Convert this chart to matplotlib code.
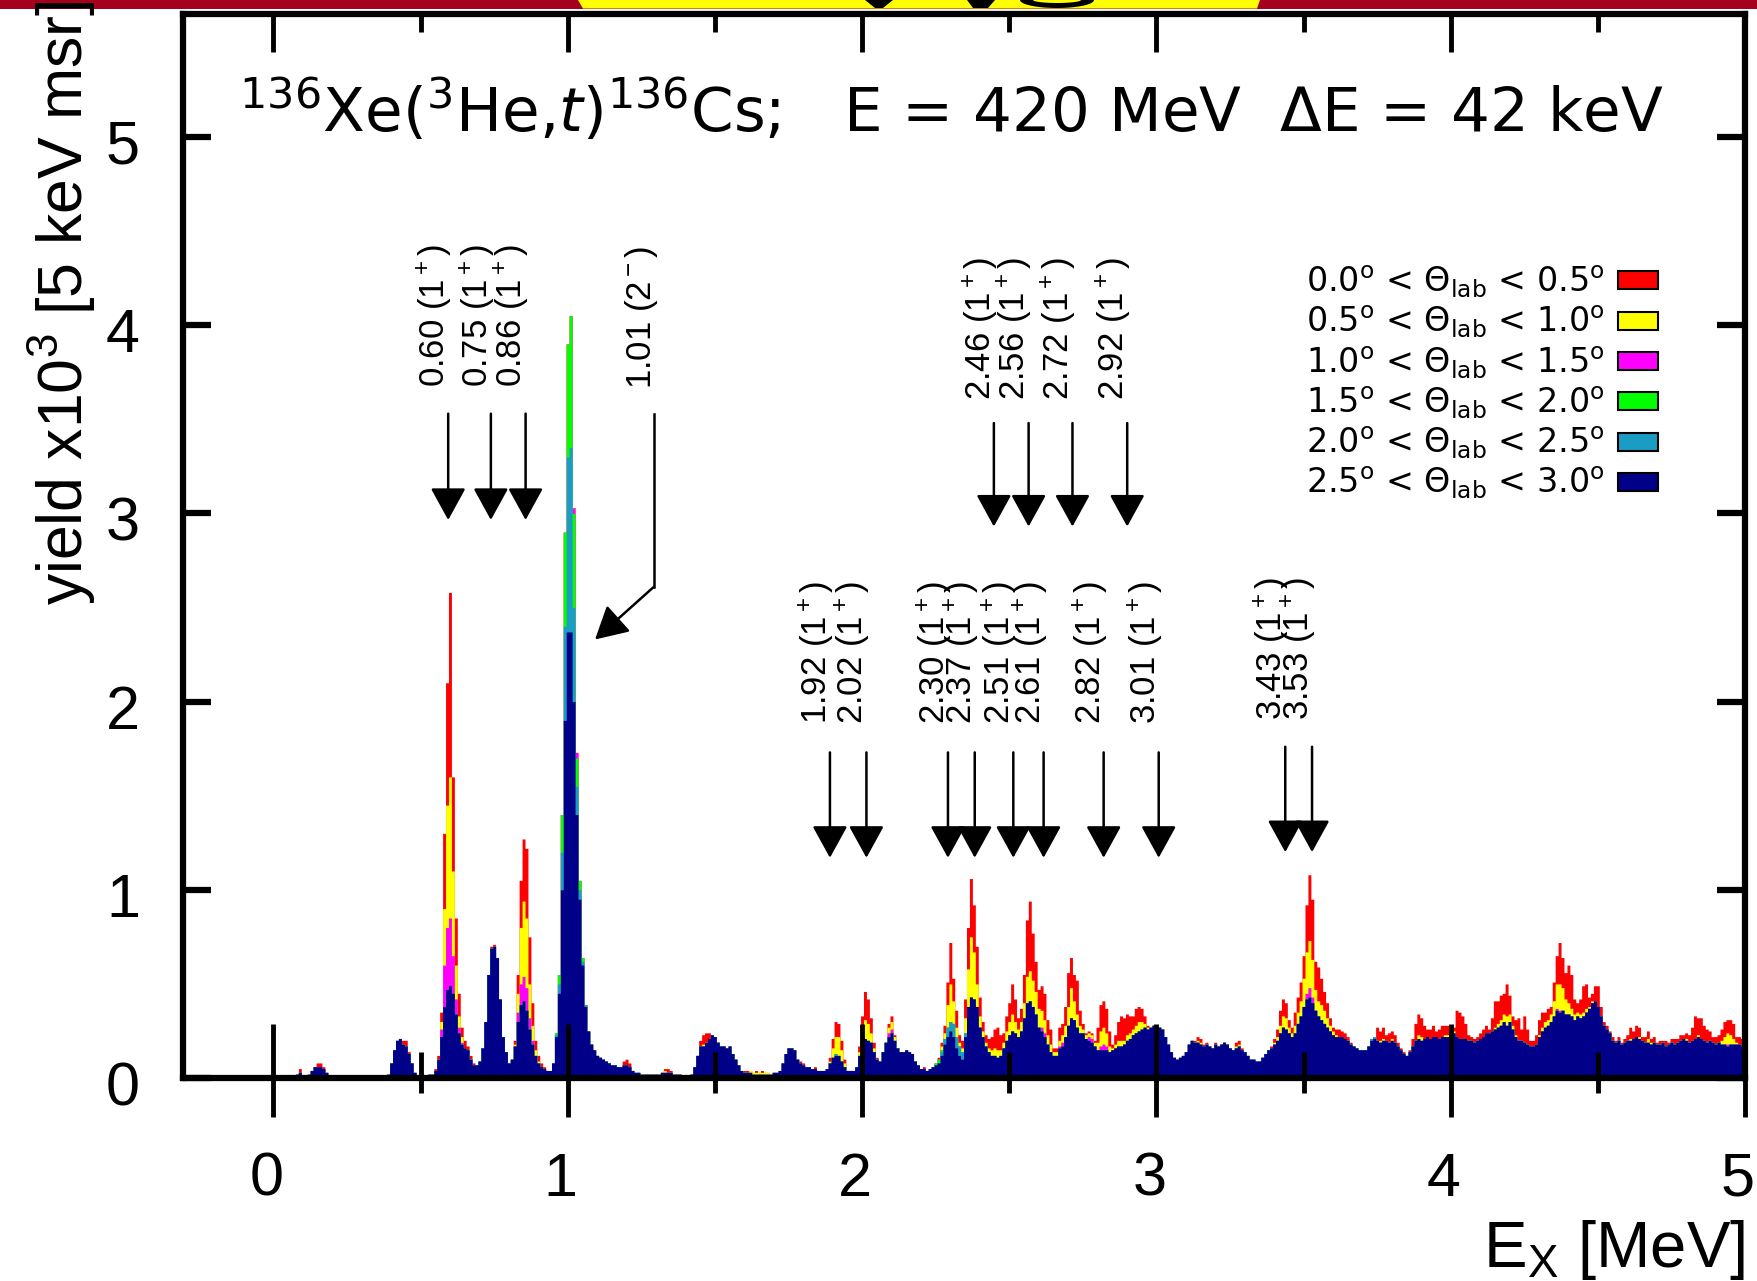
import numpy as np
import matplotlib
matplotlib.use('Agg')
import matplotlib.pyplot as plt
from matplotlib.patches import Patch, Polygon, Rectangle
from matplotlib.ticker import MultipleLocator
from matplotlib.transforms import ScaledTranslation

plt.rcParams['font.family'] = ['Liberation Sans', 'DejaVu Sans']
plt.rcParams['mathtext.fontset'] = 'custom'
plt.rcParams['mathtext.rm'] = 'Liberation Sans'
plt.rcParams['mathtext.it'] = 'Liberation Sans:italic'
plt.rcParams['mathtext.bf'] = 'Liberation Sans:bold'

# spectrum: 10 keV bins, centres 0.00 ... 5.00 MeV
E_START, E_STEP = 0.0, 0.01

# yield per bin for each angular cut, in units of 10 (axis shows x10^3)
# 2.5 < theta < 3.0
y25 = [
    0,0,0,0,0, 0,1,1,2,3, 1,1,2,4,6, 6,6,5,3,1, 0,0,0,0,0,
    0,0,0,0,0, 0,0,0,0,0, 0,0,0,0,2, 8,15,20,21,18, 17,13,8,3,1,
    1,1,1,2,2, 4,10,22,38,47, 49,45,34,24,18, 16,15,10,7,7, 9,16,30,55,69,
    70,64,42,22,14, 8,10,17,30,39, 41,36,26,18,12, 8,6,5,4,4, 8,22,45,100,190,
    237,237,200,140,95, 60,38,25,18,15, 12,11,10,9,8, 7,7,6,6,7, 7,6,4,3,3,
    2,2,2,2,2, 2,2,3,3,3, 3,2,2,2,1, 1,1,2,6,12, 17,17,19,21,23,
    22,19,17,17,16, 17,13,10,7,4, 3,3,3,2,2, 2,2,2,2,2, 3,3,4,8,13,
    16,16,15,10,8, 7,6,6,5,5, 4,4,4,5,8, 11,12,12,9,6, 4,4,4,6,12,
    18,21,20,19,14, 10,9,14,19,22, 24,20,16,14,14, 15,14,13,9,7, 5,5,4,5,6,
    7,8,12,18,22, 25,22,16,12,10, 22,38,43,42,38, 27,22,17,14,12, 12,11,12,16,20,
    23,25,24,22,25, 32,40,41,38,34, 27,25,22,18,14, 12,12,16,17,22, 28,32,31,27,24,
    24,21,20,19,17, 15,15,15,15,14, 15,16,17,17,18, 20,21,23,24,25, 26,27,26,27,28,
    28,27,26,22,18, 14,11,10,11,12, 14,18,20,19,19, 18,17,18,17,16, 18,17,18,19,18,
    16,15,16,17,15, 14,12,10,10,9, 9,11,13,15,16, 18,20,24,27,26, 24,22,24,29,33,
    38,42,43,40,36, 33,31,29,27,25, 23,22,22,22,21, 20,18,17,16,15, 15,15,17,20,21,
    20,19,20,20,19, 20,19,17,15,13, 12,14,17,20,21, 20,21,22,21,22, 22,21,22,22,22,
    22,24,22,21,21, 21,20,20,19,20, 21,22,24,24,25, 26,27,28,30,28, 30,26,22,20,20,
    19,18,17,17,18, 22,25,27,28,30, 33,36,35,36,34, 34,33,31,33,32, 33,35,37,40,41,
    38,33,28,26,24, 20,19,20,18,19, 20,20,21,22,21, 20,19,19,18,19, 18,18,19,17,18,
    19,18,19,20,21, 20,19,20,21,22, 21,20,19,20,19, 18,19,18,18,17, 18,18,18,18,17,
    17]
# 2.0 < theta < 2.5
y20 = [
    0,0,0,0,0, 0,0,0,0,0, 0,0,0,0,0, 0,0,0,0,0, 0,0,0,0,0,
    0,0,0,0,0, 0,0,0,0,0, 0,0,0,0,0, 0,0,0,0,0, 0,0,0,0,0,
    0,0,0,0,0, 0,0,0,0,0, 0,0,0,0,0, 0,0,0,0,0, 0,0,0,0,0,
    0,0,0,0,0, 0,0,0,0,0, 0,0,0,0,0, 0,0,0,0,0, 0,1,5,20,50,
    93,98,50,15,5, 2,1,0,0,0, 0,0,0,0,0, 0,0,0,0,0, 0,0,0,0,0,
    0,0,0,0,0, 0,0,0,0,0, 0,0,0,0,0, 0,0,0,0,0, 0,0,0,0,0,
    0,0,0,0,0, 0,0,0,0,0, 0,0,0,0,0, 0,0,0,0,0, 0,0,0,0,0,
    0,0,0,0,0, 0,0,0,0,0, 0,0,0,0,0, 0,1,0,0,0, 0,0,0,0,0,
    0,0,0,0,0, 0,0,0,0,0, 0,0,0,0,0, 0,0,0,0,0, 0,0,0,0,0,
    0,0,2,3,5, 5,7,6,5,4, 2,0,0,0,0, 0,0,0,0,0, 0,0,0,0,0,
    0,0,0,0,0, 0,0,0,0,0, 0,0,0,0,0, 0,0,0,0,0, 0,0,0,0,0,
    0,0,0,0,0, 0,0,0,0,0, 0,0,0,0,0, 0,0,0,0,0, 0,0,0,0,0,
    0,0,0,0,0, 0,0,0,0,0, 0,0,0,0,0, 0,0,0,0,0, 0,0,0,0,0,
    0,0,0,0,0, 0,0,0,0,0, 0,0,0,0,0, 0,0,0,0,0, 0,0,0,0,0,
    0,0,0,0,0, 0,0,0,0,0, 0,0,0,0,0, 0,0,0,0,0, 0,0,0,1,1,
    0,0,0,0,0, 0,0,0,0,0, 0,0,0,0,0, 0,0,0,0,0, 0,0,0,0,0,
    0,0,0,0,0, 0,0,0,0,0, 0,0,0,0,0, 0,0,0,0,0, 0,0,0,0,0,
    0,0,0,0,0, 0,0,0,0,0, 0,0,0,0,0, 0,0,0,0,0, 0,0,0,0,0,
    0,0,0,0,0, 0,0,0,0,0, 0,0,0,0,0, 0,0,0,0,0, 0,0,0,0,0,
    0,0,0,0,0, 0,0,0,0,0, 0,0,0,0,0, 0,0,0,0,0, 0,0,0,0,0,
    0]
# 1.5 < theta < 2.0
y15 = [
    0,0,0,0,0, 0,0,0,0,0, 0,0,0,0,0, 0,0,0,0,0, 0,0,0,0,0,
    0,0,0,0,0, 0,0,0,0,0, 0,0,0,0,0, 0,0,0,0,0, 0,0,0,0,0,
    0,0,0,0,0, 0,0,0,0,0, 0,0,0,0,0, 0,0,0,0,0, 0,0,0,0,0,
    0,0,0,0,0, 0,0,0,0,0, 0,0,0,0,0, 0,0,0,0,0, 0,1,5,20,50,
    60,70,50,15,5, 2,0,0,0,0, 0,0,0,0,0, 0,0,0,0,0, 0,0,0,0,0,
    0,0,0,0,0, 0,0,0,0,0, 0,0,0,0,0, 0,0,0,0,0, 0,0,0,0,0,
    0,0,0,0,0, 0,0,0,0,0, 0,0,0,0,0, 0,0,0,0,0, 0,0,0,0,0,
    0,0,0,0,0, 0,0,0,0,0, 0,0,0,0,0, 0,0,0,0,0, 0,0,0,0,0,
    0,0,0,0,0, 0,0,0,0,0, 0,0,0,0,0, 0,0,0,0,0, 0,0,0,0,0,
    1,2,1,0,0, 0,0,0,0,0, 0,0,0,0,0, 0,0,0,0,0, 0,0,0,0,0,
    0,0,0,0,0, 0,0,0,0,0, 0,0,0,0,0, 0,0,0,0,0, 0,0,0,0,0,
    0,0,0,0,0, 0,0,0,0,0, 0,0,0,0,0, 0,0,0,0,0, 0,0,0,0,0,
    0,0,0,0,0, 0,0,0,0,0, 0,0,0,0,0, 0,0,0,0,0, 0,0,0,0,0,
    0,0,0,0,0, 0,0,0,0,0, 0,0,0,0,0, 0,0,0,0,0, 0,0,0,0,0,
    0,0,0,0,0, 0,0,0,0,0, 0,0,0,0,0, 0,0,0,0,0, 0,0,0,0,0,
    0,0,0,0,0, 0,0,0,0,0, 0,0,0,0,0, 0,0,0,0,0, 0,0,0,0,0,
    0,0,0,0,0, 0,0,0,0,0, 0,0,0,0,0, 0,0,0,0,0, 0,0,0,0,0,
    0,0,0,0,0, 0,0,0,0,0, 0,0,0,0,0, 0,0,0,0,0, 0,0,0,0,0,
    0,0,0,0,0, 0,0,0,0,0, 0,0,0,0,0, 0,0,0,0,0, 0,0,0,0,0,
    0,0,0,0,0, 0,0,0,0,0, 0,0,0,0,0, 0,0,0,0,0, 0,0,0,0,0,
    0]
# 1.0 < theta < 1.5
y10 = [
    0,0,0,0,0, 0,0,0,0,0, 0,0,0,0,0, 0,0,0,0,0, 0,0,0,0,0,
    0,0,0,0,0, 0,0,0,0,0, 0,0,0,0,0, 0,0,0,0,0, 0,0,0,0,0,
    0,0,0,0,0, 0,0,4,22,33, 36,20,8,3,1, 0,0,0,0,0, 0,0,0,0,0,
    0,0,0,0,0, 0,0,0,5,11, 13,12,6,2,0, 0,0,0,0,0, 0,0,0,0,0,
    0,0,3,3,0, 0,0,0,0,0, 0,0,0,0,0, 0,0,0,0,0, 0,0,0,0,0,
    0,0,0,0,0, 0,0,0,0,0, 0,0,0,0,0, 0,0,0,0,0, 0,0,0,0,0,
    0,0,0,0,0, 0,0,0,0,0, 0,0,0,0,0, 0,0,0,0,0, 0,0,0,0,0,
    0,0,0,0,0, 0,0,0,0,0, 0,0,0,0,0, 0,0,0,0,0, 0,0,0,0,0,
    0,0,0,0,0, 0,0,0,0,2, 2,0,0,0,0, 0,0,0,0,0, 0,0,0,0,0,
    0,0,0,0,0, 0,0,0,0,0, 0,0,0,0,0, 0,0,0,0,0, 0,0,0,0,0,
    0,0,0,0,0, 0,0,0,0,0, 0,2,2,0,0, 0,0,1,2,0, 0,0,0,0,0,
    0,0,2,2,0, 0,2,3,2,0, 0,0,0,0,0, 0,0,0,0,0, 0,0,0,0,0,
    0,0,0,0,0, 0,0,0,0,0, 0,0,0,0,0, 0,0,0,0,0, 0,0,0,0,0,
    0,0,0,0,0, 0,0,0,0,0, 0,0,0,0,0, 0,0,0,0,0, 0,0,0,0,0,
    0,3,5,3,0, 0,0,0,0,0, 0,0,0,0,0, 0,0,0,0,0, 0,0,0,0,0,
    0,0,0,0,0, 0,0,0,0,0, 0,0,0,0,0, 0,0,0,0,0, 0,0,0,0,0,
    0,0,0,0,0, 0,0,0,0,0, 0,0,0,0,0, 0,0,0,0,0, 0,0,0,0,0,
    0,0,0,0,0, 0,0,0,0,0, 0,1,1,0,0, 0,0,0,0,0, 0,0,0,0,0,
    0,0,0,0,0, 0,0,0,0,0, 0,0,0,0,0, 0,0,0,0,0, 0,0,0,0,0,
    0,0,0,0,0, 0,0,0,0,0, 0,0,0,0,0, 0,0,0,0,1, 0,0,0,0,0,
    0]
# 0.5 < theta < 1.0
y05 = [
    0,0,0,0,0, 0,0,0,0,0, 0,0,0,0,0, 0,0,0,0,0, 0,0,0,0,0,
    0,0,0,0,0, 0,0,0,0,0, 0,0,0,0,0, 0,0,0,0,0, 0,0,0,0,0,
    0,0,0,0,0, 0,0,4,30,65, 75,45,18,6,3, 0,0,0,0,0, 0,0,0,0,0,
    0,0,0,0,0, 0,0,1,10,30, 40,37,18,8,3, 1,0,0,0,0, 0,0,0,0,0,
    0,0,0,0,0, 0,0,0,0,0, 0,0,0,0,0, 0,0,0,0,0, 0,0,0,0,0,
    0,0,0,0,0, 0,0,0,1,0, 0,0,0,0,0, 0,0,0,0,0, 0,1,0,0,0,
    0,0,0,0,0, 0,0,0,0,0, 0,0,1,1,1, 1,1,1,1,0, 0,0,0,0,0,
    0,0,0,0,0, 0,0,0,0,0, 0,0,0,0,1, 5,9,10,6,2, 0,0,0,0,2,
    7,10,9,5,2, 0,0,0,0,3, 4,2,0,0,0, 0,0,0,0,0, 0,0,0,0,0,
    0,0,2,3,12, 20,12,5,2,2, 8,20,32,25,12, 6,3,2,2,3, 4,4,3,3,5,
    7,9,6,4,5, 8,14,16,14,12, 10,9,7,5,4, 2,2,3,4,6, 10,16,10,7,4,
    2,2,2,2,2, 4,8,9,7,3, 1,2,3,3,2, 3,3,3,4,5, 4,2,1,0,0,
    0,0,0,0,0, 0,0,0,0,0, 0,0,0,0,1, 1,0,0,0,0, 0,0,0,0,0,
    0,0,1,1,0, 0,0,0,0,0, 0,0,0,0,0, 1,2,4,6,6, 3,2,4,6,8,
    15,22,25,20,11, 8,8,7,5,3, 2,1,0,0,0, 0,0,0,0,0, 0,0,0,0,0,
    0,1,1,0,0, 1,0,0,0,0, 0,0,0,0,2, 2,0,0,0,0, 0,0,0,1,1,
    0,1,0,0,0, 0,0,0,0,0, 0,0,0,0,0, 1,2,3,4,5, 4,2,1,0,0,
    0,0,0,0,0, 1,2,3,3,4, 8,13,14,12,8, 6,4,3,2,2, 2,2,1,1,0,
    0,0,0,0,0, 0,0,0,0,0, 0,1,0,0,1, 0,0,2,1,0, 0,0,0,0,0,
    0,0,0,0,0, 1,0,0,0,1, 0,0,0,0,0, 0,0,2,4,6, 5,3,1,0,0,
    0]
# 0.0 < theta < 0.5
y00 = [
    0,0,0,0,0, 0,0,0,0,2, 0,0,0,0,0, 2,2,1,0,0, 0,0,0,0,0,
    0,0,0,0,0, 0,0,0,0,0, 0,0,0,0,0, 0,0,0,0,2, 3,1,0,0,0,
    0,0,0,0,0, 1,2,5,40,65, 98,50,25,12,5, 4,2,2,1,0, 0,0,0,0,1,
    1,0,0,0,0, 0,0,2,10,25, 33,37,25,12,5, 3,2,1,0,0, 0,0,0,0,0,
    0,0,0,0,0, 0,0,0,0,0, 0,0,0,0,0, 0,0,0,0,2, 3,2,0,0,0,
    0,0,0,0,0, 0,0,0,1,2, 1,0,0,0,0, 0,0,0,0,0, 3,5,5,3,0,
    0,0,0,0,0, 0,0,0,0,0, 1,1,0,0,1, 0,1,0,0,0, 0,0,0,0,0,
    0,0,0,0,1, 1,0,0,0,1, 0,0,0,0,2, 5,8,7,5,2, 0,0,0,0,3,
    8,15,13,8,3, 1,0,0,0,2, 3,1,0,0,0, 0,0,0,0,0, 0,1,0,0,0,
    0,1,2,4,12, 22,12,9,4,4, 10,22,31,25,20, 10,5,4,5,7, 10,12,8,5,8,
    10,16,12,6,7, 15,30,37,25,16, 10,13,14,8,8, 2,2,7,6,10, 18,16,14,18,8,
    3,1,1,1,1, 8,14,14,13,8, 2,5,10,13,12, 11,9,7,9,8, 7,4,1,0,0,
    0,0,0,0,0, 0,0,0,0,0, 0,0,0,1,2, 2,1,1,0,0, 1,0,0,0,0,
    0,0,2,2,1, 0,0,0,0,0, 0,0,0,0,1, 2,4,8,9,8, 4,3,7,8,10,
    12,25,35,32,15, 18,14,10,8,4, 2,3,4,3,3, 2,1,0,0,0, 0,0,0,0,0,
    7,5,6,3,5, 4,4,2,1,1, 0,1,4,9,11, 10,7,4,5,6, 3,5,6,5,5,
    3,2,14,14,12, 8,3,2,2,2, 3,4,4,2,7, 14,12,13,11,17, 10,5,8,12,6,
    14,8,3,3,5, 8,8,5,6,4, 10,15,22,16,14, 20,18,8,5,8, 14,13,5,4,8,
    11,5,2,2,1, 2,1,2,1,2, 3,6,4,6,5, 2,3,4,2,3, 1,2,1,3,1,
    2,3,2,3,2, 3,4,7,12,9, 11,8,7,5,3, 4,4,6,8,7, 8,8,3,4,4,
    3]

cut_labels = [r'0.0$^{\rm o}$ < $\Theta_{\rm lab}$ < 0.5$^{\rm o}$',
              r'0.5$^{\rm o}$ < $\Theta_{\rm lab}$ < 1.0$^{\rm o}$',
              r'1.0$^{\rm o}$ < $\Theta_{\rm lab}$ < 1.5$^{\rm o}$',
              r'1.5$^{\rm o}$ < $\Theta_{\rm lab}$ < 2.0$^{\rm o}$',
              r'2.0$^{\rm o}$ < $\Theta_{\rm lab}$ < 2.5$^{\rm o}$',
              r'2.5$^{\rm o}$ < $\Theta_{\rm lab}$ < 3.0$^{\rm o}$']
cut_colors = ['#ff0000', '#ffff00', '#ff00ff', '#00ff00', '#1b9cc4', '#000088']

# state labels (MeV, J^pi) and arrow positions
grp1_lbl = ['0.60', '0.75', '0.86']
grp1_x = [0.594, 0.739, 0.857]
grp2_lbl = ['2.46', '2.56', '2.72', '2.92']
grp2_x = [2.448, 2.566, 2.715, 2.901]
grp3_lbl = ['1.92', '2.02', '2.30', '2.37', '2.51', '2.61', '2.82', '3.01']
grp3_x = [1.891, 2.015, 2.292, 2.383, 2.514, 2.617, 2.821, 3.008]
grp4_lbl = ['3.43', '3.53']
grp4_x = [3.438, 3.529]

W, H = 1757, 1281
fig = plt.figure(figsize=(W/100, H/100), dpi=100)

def fpx(x, y):
    # pixel (from top-left) -> figure fraction
    return (x / W, 1 - y / H)

# slide header remnant
fig.add_artist(Rectangle(fpx(0, 8.5), 1, 8.5/H, transform=fig.transFigure, color='#a6001f', lw=0))
fig.add_artist(Polygon([fpx(578, 0), fpx(1260, 0), fpx(1257, 8.5), fpx(583, 8.5)],
                       closed=True, transform=fig.transFigure, color='#ffff00', lw=0))
fig.add_artist(Polygon([fpx(865, 0), fpx(893, 0), fpx(883, 8), fpx(875, 8)],
                       closed=True, transform=fig.transFigure, color='black', lw=0))
fig.add_artist(Polygon([fpx(967, 0), fpx(995, 0), fpx(988, 8), fpx(973, 8)],
                       closed=True, transform=fig.transFigure, color='black', lw=0))
t = np.linspace(0, np.pi, 30)
fig.add_artist(Polygon([fpx(1057 + 37*np.cos(a), 8*np.sin(a)) for a in t],
                       closed=True, transform=fig.transFigure, color='black', lw=0))
fig.add_artist(Polygon([fpx(1057 + 24*np.cos(a), 3*np.sin(a)) for a in t],
                       closed=True, transform=fig.transFigure, color='#ffff00', lw=0))

ax = fig.add_axes([183/W, 1 - 1078/H, (1745-183)/W, (1078-13.5)/H])
ax.set_axisbelow(False)

ex = E_START + E_STEP*np.arange(len(y25))
layers = np.array([y25, y20, y15, y10, y05, y00], dtype=float)
assert layers.shape[1] == 501
tops = np.cumsum(layers, axis=0) / 100.0
fill_cols = cut_colors[::-1]
for i in range(5, -1, -1):
    ax.fill_between(ex, 0, tops[i], step='mid', color=fill_cols[i], lw=0, zorder=2)

ax.set_xlim(-0.307, 5.0)
ax.set_ylim(0, 5.656)

for s in ax.spines.values():
    s.set_linewidth(4.5)
    s.set_zorder(5)

ax.set_xticks(range(6))
ax.xaxis.set_minor_locator(MultipleLocator(0.5))
ax.tick_params(axis='x', which='major', direction='in', length=39, width=3.5, labelbottom=False)
ax.tick_params(axis='x', which='minor', direction='in', length=19, width=3.5)
ax.set_yticks(range(6))
ax.tick_params(axis='y', direction='in', length=20, width=4.5, left=True, right=True,
               labelsize=44, pad=31)
for lab in ax.get_yticklabels():
    lab.set_transform(lab.get_transform() + ScaledTranslation(0, -0.05, fig.dpi_scale_trans))

top = ax.secondary_xaxis('top')
top.set_xticks(range(6))
top.xaxis.set_minor_locator(MultipleLocator(0.5))
top.tick_params(which='major', direction='in', length=28, width=3.5, labeltop=False)
top.tick_params(which='minor', direction='in', length=14, width=3.5)
top.spines['top'].set_visible(False)

bot = ax.secondary_xaxis('bottom')
bot.set_xticks(range(6))
bot.xaxis.set_minor_locator(MultipleLocator(0.5))
bot.tick_params(which='major', direction='out', length=28, width=3.5, labelsize=44, pad=25)
bot.tick_params(which='minor', direction='out', length=11, width=3.5)
bot.spines['bottom'].set_visible(False)
for lab in bot.get_xticklabels():
    lab.set_transform(lab.get_transform() + ScaledTranslation(-0.07, 0, fig.dpi_scale_trans))

fig.text(62/W, 1 - 605/H, r'yield x10$^3$ [5 keV msr]', rotation=90, ha='center',
         va='bottom', fontsize=45)
fig.text(1745/W, 1 - 1250/H, r'E$_{\rm X}$ [MeV]', ha='right', va='center', fontsize=47)

ax.text(-0.118, 5.024, r'$^{136}$Xe($^{3}$He,$t$)$^{136}$Cs;   E = 420 MeV  $\Delta$E = 42 keV',
        fontsize=44, ha='left', va='baseline', family='DejaVu Sans',
        math_fontfamily='dejavusans')

# arrows with state labels
arrow_kw = dict(arrowstyle='-|>,head_length=1.0,head_width=0.55', mutation_scale=20,
                lw=1.8, color='black', shrinkA=0, shrinkB=0)

def mark_states(lbls, xs, y_text, y_top, y_tip):
    for lbl, x in zip(lbls, xs):
        ax.annotate('', xy=(x, y_tip), xytext=(x, y_top), arrowprops=arrow_kw, zorder=4)
        ax.text(x + 0.02, y_text, lbl + r' (1$^+$)', rotation=90, ha='right',
                va='bottom', fontsize=25)

mark_states(grp1_lbl, grp1_x, 3.67, 3.53, 2.965)
mark_states(grp2_lbl, grp2_x, 3.60, 3.48, 2.93)
mark_states(grp3_lbl, grp3_x, 1.88, 1.73, 1.17)
mark_states(grp4_lbl, grp4_x, 1.90, 1.76, 1.20)

# 1.01 (2-) with bent arrow
ax.plot([1.293, 1.293], [3.53, 2.61], color='black', lw=1.8)
ax.annotate('', xy=(1.093, 2.33), xytext=(1.293, 2.61), arrowprops=arrow_kw, zorder=4)
ax.text(1.293 + 0.02, 3.66, r'1.01 (2$^-$)', rotation=90, ha='right', va='bottom', fontsize=25)

handles = [Patch(facecolor=c, edgecolor='black', lw=1.5) for c in cut_colors]
ax.legend(handles, cut_labels, loc='upper right', bbox_to_anchor=(0.944, 0.765),
          frameon=False, markerfirst=False, handlelength=1.2,
          handleheight=0.45, handletextpad=0.4, labelspacing=0.12,
          borderaxespad=0, borderpad=0,
          prop={'family': 'DejaVu Sans', 'size': 24, 'math_fontfamily': 'dejavusans'})

fig.savefig('out.png', dpi=100)
